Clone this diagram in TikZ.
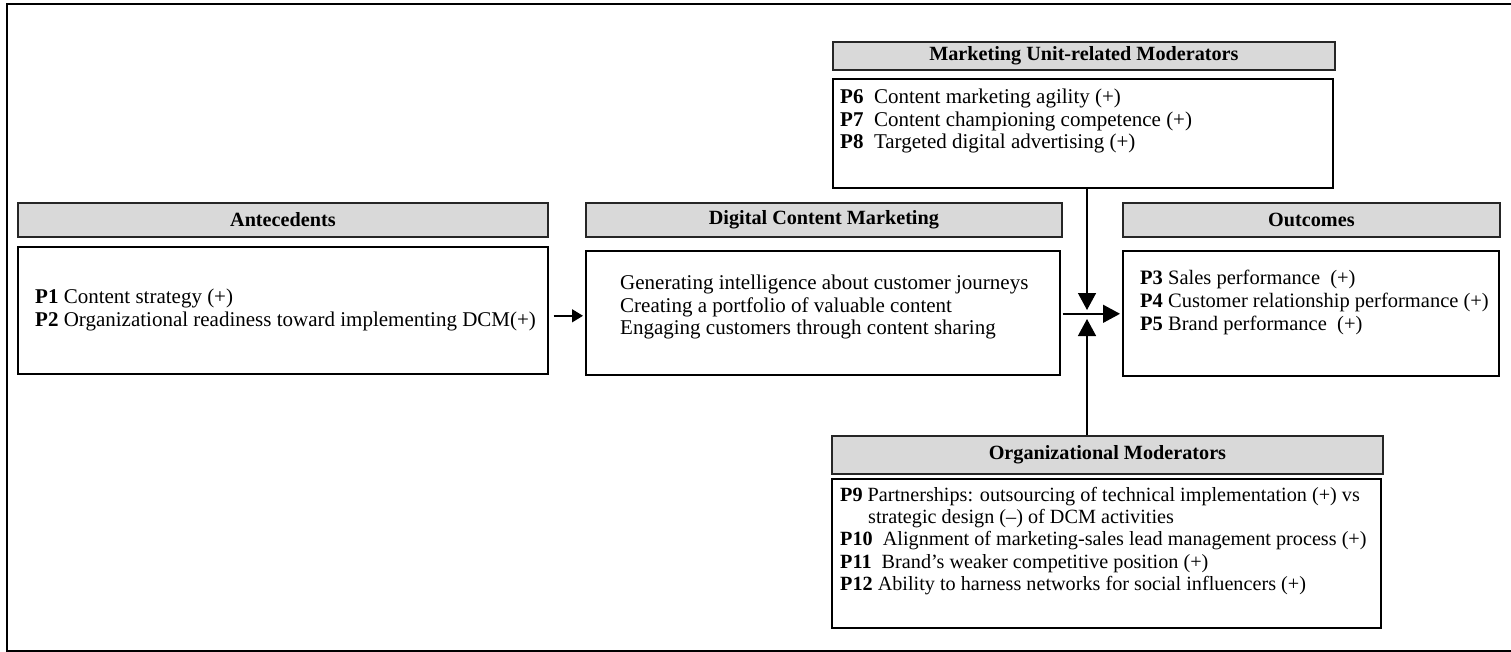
\documentclass[tikz,border=0pt]{standalone}
\usepackage{fontspec}
\setmainfont{Liberation Serif}
\usetikzlibrary{arrows.meta,calc}
\definecolor{hdrgray}{RGB}{217,217,217}
\begin{document}
\begin{tikzpicture}[x=1pt,y=-1pt,
  hdr/.style={draw=black!85, line width=1.8pt, fill=hdrgray, inner sep=0pt,
    anchor=north west, font=\fontsize{20.2}{22}\selectfont\bfseries},
  panel/.style={draw=black, line width=1.6pt, fill=white, inner sep=0pt, anchor=north west},
  txt/.style={inner sep=0pt, anchor=west, align=left, font=\fontsize{21}{22.6}\selectfont},
  conn/.style={draw=black, line width=1.4pt},
  bigtip/.style={-{Triangle[length=17pt,width=18pt]}},
  smalltip/.style={-{Triangle[length=11pt,width=13pt]}}
]
\useasboundingbox (0,0) rectangle (1511,652);
% outer frame
\draw[line width=2.4pt] (7,4) rectangle (1516,651);

% Antecedents
\node[hdr, minimum width=530, minimum height=34] (antH) at (17,202) {Antecedents};
\node[panel, minimum width=530, minimum height=127] (antB) at (17,246) {};
\node[txt] (antT) at (35,310) {\textbf{P1} Content strategy (+)\\
  \textbf{P2} Organizational readiness toward implementing DCM(+)};

% Digital Content Marketing
\node[hdr, minimum width=476, minimum height=34] (dcmH) at (585,202) {Digital Content Marketing};
\node[panel, minimum width=474, minimum height=124] (dcmB) at (585,250) {};
\node[txt] (dcmT) at (620,307) {Generating intelligence about customer journeys\\
  Creating a portfolio of valuable content\\
  Engaging customers through content sharing};

% Outcomes
\node[hdr, minimum width=377, minimum height=34] (outH) at (1122,202) {Outcomes};
\node[panel, minimum width=376, minimum height=125] (outB) at (1122,250) {};
\node[txt, font=\fontsize{20.5}{22.6}\selectfont] (outT) at (1140,302.5) {\textbf{P3} Sales performance\enspace(+)\\
  \textbf{P4} Customer relationship performance (+)\\
  \textbf{P5} Brand performance\enspace(+)};

% Marketing unit-related moderators
\node[hdr, minimum width=502, minimum height=28] (mktH) at (832,41) {Marketing Unit-related Moderators};
\node[panel, minimum width=500, minimum height=109] (mktB) at (832,78) {};
\node[txt] (mktT) at (840,121) {\textbf{P6}\enspace Content marketing agility (+)\\
  \textbf{P7}\enspace Content championing competence (+)\\
  \textbf{P8}\enspace Targeted digital advertising (+)};

% Organizational moderators
\node[hdr, minimum width=551, minimum height=38] (orgH) at (831,435) {Organizational Moderators};
\node[panel, minimum width=549, minimum height=149] (orgB) at (831,478) {};
\node[txt, font=\fontsize{20.2}{22.2}\selectfont] (orgT) at (840,541) {\textbf{P9} Partnerships: outsourcing of technical implementation (+) vs\\
  \hspace*{28pt}strategic design (\textendash) of DCM activities\\
  \textbf{P10}\enspace Alignment of marketing-sales lead management process (+)\\
  \textbf{P11}\enspace Brand\textquoteright s weaker competitive position (+)\\
  \textbf{P12} Ability to harness networks for social influencers (+)};

% connectors
\coordinate (jn) at (1087,313);
\draw[conn, smalltip] ($(antB.east)+(5,5.5)$) -- ($(dcmB.west)+(-2,3)$);
\draw[conn, bigtip] ($(dcmB.east)+(2,1)$) -- ($(outB.west)+(-2,0.5)$);
\draw[conn, bigtip] (mktB.south -| jn) -- ($(jn)+(0,-3)$);
\draw[conn, bigtip] (orgH.north -| jn) -- ($(jn)+(0,6)$);
\end{tikzpicture}
\end{document}
